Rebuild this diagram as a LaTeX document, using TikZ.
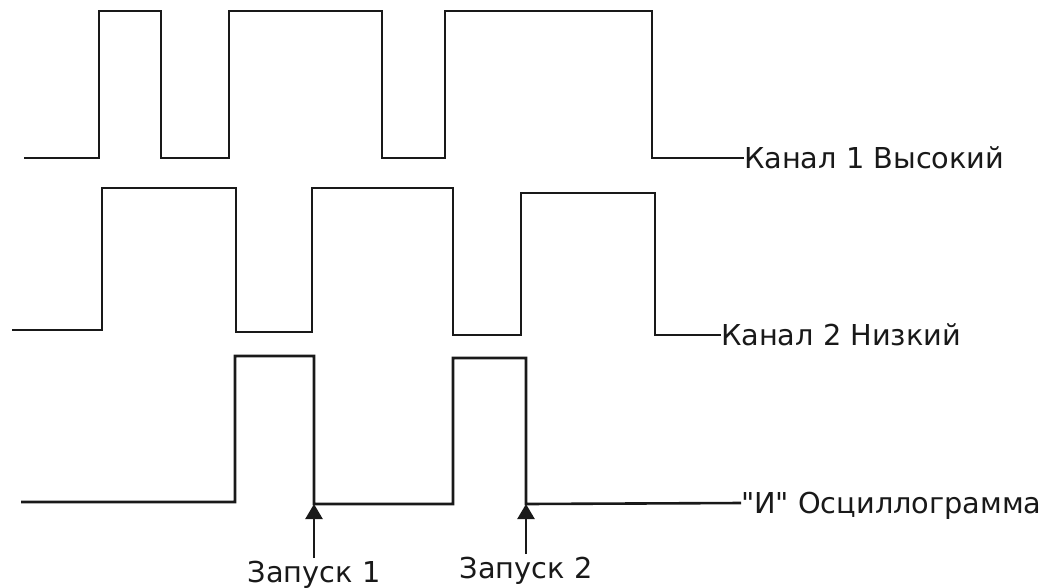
\documentclass[tikz,border=0pt]{standalone}
\usepackage{fontspec}
\setmainfont{DejaVu Sans}[Ligatures=TeXOff]
\usetikzlibrary{arrows.meta}
\begin{document}
\begin{tikzpicture}[x=1pt,y=-1pt,
  wave/.style={line width=2.6pt, line join=miter, color=black!90},
  lbl/.style={inner sep=0pt, outer sep=0pt, text height=20pt, text depth=0pt,
    font=\fontsize{28.8}{32}\selectfont, text=black!90},
  trig/.style={line width=2.4pt, color=black!90, shorten <=4pt,
    -{Triangle[width=17pt,length=15pt]}}]
\useasboundingbox (0,0) rectangle (1046,587);

% labels
\node[lbl, anchor=west] (c1) at (744,158) {Канал 1 Высокий};
\node[lbl, anchor=west] (c2) at (721,335) {Канал 2 Низкий};
\node[lbl, anchor=west] (c3) at (741,503) {"И" Осциллограмма};
\node[lbl, anchor=north] (z1) at (314,562) {Запуск 1};
\node[lbl, anchor=north] (z2) at (526,558) {Запуск 2};

% trigger points on the AND waveform
\coordinate (t1) at (314,504);
\coordinate (t2) at (526,504);

% channel 1
\draw[wave] (24,158) -| (99,11) -| (161,158) -| (229,11) -| (382,158)
  -| (445,11) -| (652,158) -- (c1.west);

% channel 2
\draw[wave] (12,330) -| (102,188) -| (236,332) -| (312,188) -| (453,335)
  -| (521,193) -| (655,335) -- (c2.west);

% AND waveform
\draw[wave] (21,502) -| (235,356) -| (t1) -- (453,504) |- (526,358) -- (t2)
  -- (c3.west);

% trigger arrows
\draw[trig] (z1.north) -- (t1);
\draw[trig] (z2.north) -- (t2);
\end{tikzpicture}
\end{document}
